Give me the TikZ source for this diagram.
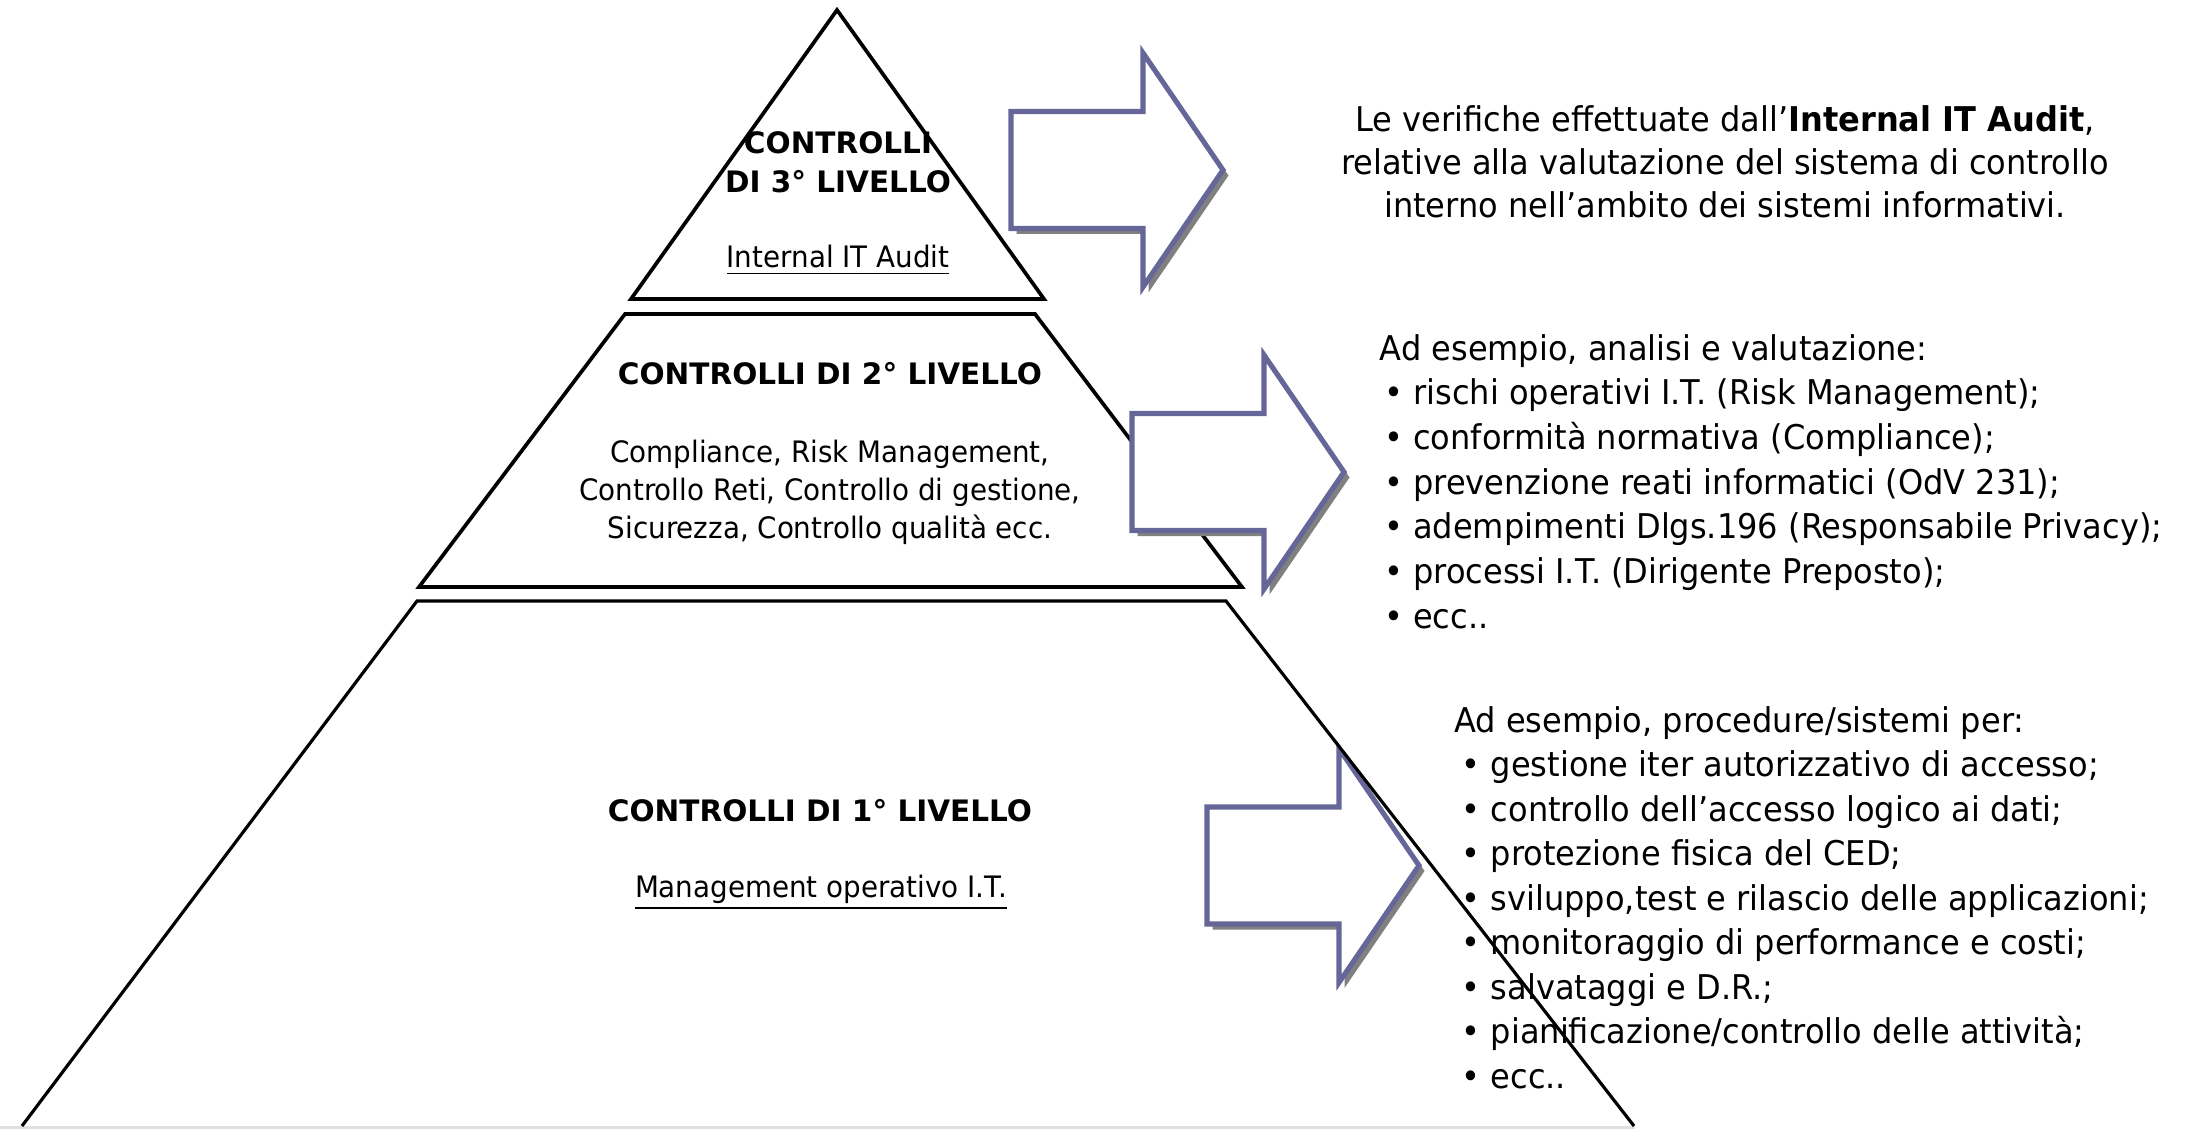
\documentclass[tikz,border=0pt]{standalone}
\usepackage{fontspec}
\setmainfont{DejaVu Sans}[FakeStretch=0.94]
\newfontfamily\titlefont{DejaVu Sans}
\definecolor{arrowblue}{HTML}{666699}
\definecolor{shadowgray}{HTML}{808080}

\begin{document}
\begin{tikzpicture}[
    level/.style={draw=black, line width=1.05pt},
    levtitle/.style={font=\fontsize{8.4}{10}\titlefont\bfseries, inner sep=0pt, anchor=base},
    levtext/.style={font=\fontsize{8.4}{10}\selectfont, inner sep=0pt, anchor=base},
    listline/.style={font=\fontsize{9.7}{12}\selectfont, inner sep=0pt, anchor=base west},
    bigarrow/.pic={
        % shadow first, then the white arrow on top
        \fill[shadowgray] (0.055,0.53) -- (1.375,0.53) -- (1.375,1.115) -- (2.175,-0.055)
            -- (1.375,-1.225) -- (1.375,-0.64) -- (0.055,-0.64) -- cycle;
        \draw[arrowblue, fill=white, line width=1.45pt] (0,0.585) -- (1.32,0.585) -- (1.32,1.17)
            -- (2.12,0) -- (1.32,-1.17) -- (1.32,-0.585) -- (0,-0.585) -- cycle;
    }
]
    \useasboundingbox (0,0) rectangle (21.85,-11.29);

    % Pyramid: top and middle level
    \draw[level] (8.37,-0.10) -- (10.44,-2.99) -- (6.31,-2.99) -- cycle;
    \draw[level] (6.25,-3.14) -- (10.35,-3.14) -- (12.42,-5.87) -- (4.19,-5.87) -- cycle;

    % Level texts
    \node[levtitle] (top1) at (8.38,-1.54) {CONTROLLI};
    \node[levtitle] (top2) at (8.38,-1.93) {DI 3° LIVELLO};
    \node[levtext]  (top3) at (8.38,-2.68) {\underline{Internal IT Audit}};

    \node[levtitle] (mid1) at (8.30,-3.84) {CONTROLLI DI 2° LIVELLO};
    \node[levtext]  (mid2) at (8.30,-4.62) {Compliance, Risk Management,};
    \node[levtext]  (mid3) at (8.30,-5.00) {Controllo Reti, Controllo di gestione,};
    \node[levtext]  (mid4) at (8.30,-5.38) {Sicurezza, Controllo qualità ecc.};

    \node[levtitle] (low1) at (8.20,-8.21) {CONTROLLI DI 1° LIVELLO};
    \node[levtext]  (low2) at (8.21,-8.97) {\underline{Management operativo I.T.}};

    % Descriptions on the right
    \node[listline, anchor=base] (audit1) at (17.25,-1.32) {Le verifiche effettuate dall’\textbf{Internal IT Audit},};
    \node[listline, anchor=base] (audit2) at (17.25,-1.75) {relative alla valutazione del sistema di controllo};
    \node[listline, anchor=base] (audit3) at (17.25,-2.18) {interno nell’ambito dei sistemi informativi.};

    \node[listline] (second0) at (13.79,-3.60) {Ad esempio, analisi e valutazione:};
    \foreach \t [count=\i] in {{rischi operativi I.T. (Risk Management);},
                               {conformità normativa (Compliance);},
                               {prevenzione reati informatici (OdV 231);},
                               {adempimenti Dlgs.196 (Responsabile Privacy);},
                               {processi I.T. (Dirigente Preposto);},
                               {ecc..}}{
        \node[listline] (second\i) at (13.835,-3.60-0.447*\i) {• \t};
    }

    \node[listline] (first0) at (14.535,-7.32) {Ad esempio, procedure/sistemi per:};
    \foreach \t [count=\i] in {{gestione iter autorizzativo di accesso;},
                               {controllo dell’accesso logico ai dati;},
                               {protezione fisica del CED;},
                               {sviluppo,test e rilascio delle applicazioni;},
                               {monitoraggio di performance e costi;},
                               {salvataggi e D.R.;},
                               {pianificazione/controllo delle attività;},
                               {ecc..}}{
        \node[listline] (first\i) at (14.61,-7.32-0.445*\i) {• \t};
    }

    % Block arrows
    \foreach \x/\y in {10.11/-1.70, 11.32/-4.72, 12.07/-8.655}
        \pic at (\x,\y) {bigarrow};

    % Bottom level last, its edge runs over arrow and text
    \draw[gray!25, line width=0.6pt] (0,-11.275) -- (16.35,-11.275);
    \draw[level, line width=0.9pt] (0.22,-11.26) -- (4.17,-6.01) -- (12.26,-6.01) -- (16.34,-11.26);
\end{tikzpicture}
\end{document}
